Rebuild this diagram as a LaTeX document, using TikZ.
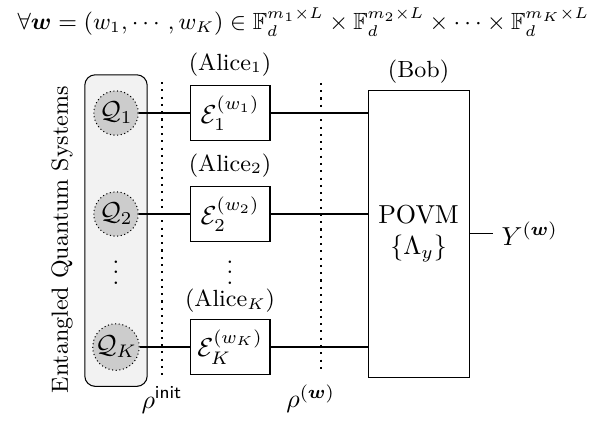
\documentclass[tikz,border=0pt]{standalone}
\usepackage{amsmath,amssymb}
\usetikzlibrary{positioning,fit,backgrounds}

\begin{document}
\begin{tikzpicture}[
    font=\small,
    qsys/.style={circle, draw, densely dotted, fill=gray!40, minimum size=0.6cm, inner sep=0pt, font=\normalsize},
    chan/.style={rectangle, draw, minimum width=1.08cm, minimum height=0.74cm, inner sep=2pt, font=\normalsize},
    meas/.style={rectangle, draw, minimum width=1.366cm, minimum height=3.88cm, align=center, font=\normalsize},
    wire/.style={semithick},
    cut/.style={thick, dotted}
]
\useasboundingbox (0,0) rectangle (8.07,-5.76);

% Index set
\node (set) at (4.1,-0.30) {$\forall \boldsymbol{w}=(w_1,\cdots,w_K)\in\mathbb{F}_d^{m_1\times L}\times\mathbb{F}_d^{m_2\times L}\times\cdots\times\mathbb{F}_d^{m_K\times L}$};

% Entangled systems
\node[qsys] (q1) at (1.568,-1.528) {$\mathcal{Q}_1$};
\node[qsys] (q2) at (1.568,-2.893) {$\mathcal{Q}_2$};
\node[qsys] (qK) at (1.568,-4.691) {$\mathcal{Q}_K$};
\node (qdots) at (1.568,-3.58) {$\vdots$};
\begin{scope}[on background layer]
\node[draw, rounded corners=4pt, fill=gray!10, inner xsep=0.1cm, inner ysep=0.21cm, fit=(q1)(qK)] (sys) {};
\end{scope}
\node[rotate=90] (syslabel) at (0.84,-3.24) {Entangled Quantum Systems};

% Encoders
\node[chan] (a1) at (3.11,-1.528) {$\mathcal{E}_1^{(w_1)}$};
\node[chan] (a2) at (3.11,-2.893) {$\mathcal{E}_2^{(w_2)}$};
\node[chan] (aK) at (3.11,-4.691) {$\mathcal{E}_K^{(w_K)}$};
\node (adots) at (3.11,-3.58) {$\vdots$};
\node[above=0pt of a1] (l1) {(Alice$_1$)};
\node[above=0pt of a2] (l2) {(Alice$_2$)};
\node[above=-1pt of aK] (lK) {(Alice$_K$)};

% Decoder
\node[meas] (bob) at (5.658,-3.157) {POVM\\$\{\Lambda_y\}$};
\node[above=-1pt of bob] (lbob) {(Bob)};
\node[right=0.31cm of bob, font=\normalsize] (out) {$Y^{(\boldsymbol{w})}$};

% Wires
\draw[wire] (q1) -- (a1);
\draw[wire] (q2) -- (a2);
\draw[wire] (qK) -- (aK);
\draw[wire] (a1) -- (a1 -| bob.west);
\draw[wire] (a2) -- (a2 -| bob.west);
\draw[wire] (aK) -- (aK -| bob.west);
\draw[wire] (bob) -- (out);

% Cuts
\coordinate (c1t) at (2.19,-1.109);
\coordinate (c1b) at (2.19,-5.07);
\coordinate (c2t) at (4.34,-1.12);
\coordinate (c2b) at (4.34,-5.04);
\draw[cut] (c1t) -- (c1b);
\draw[cut] (c2t) -- (c2b);
\node[below=1pt of c1b, font=\normalsize] (rinit) {$\rho^{\textsf{init}}$};
\node[below=1pt of c2b, xshift=-4pt, font=\normalsize] (rw) {$\rho^{(\boldsymbol{w})}$};

\end{tikzpicture}
\end{document}
